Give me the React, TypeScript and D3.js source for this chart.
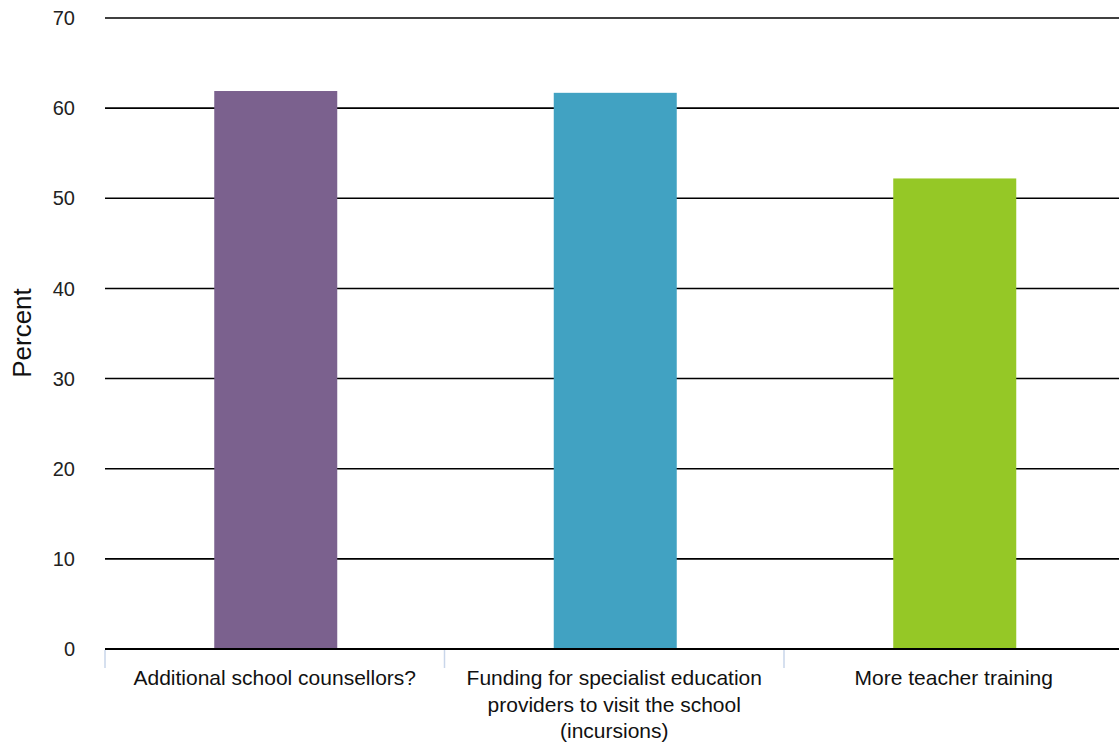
import React from "react";
import * as d3 from "d3";

const categories: string[][] = [
  ["Additional school counsellors?"],
  ["Funding for specialist education", "providers to visit the school", "(incursions)"],
  ["More teacher training"],
];
const values: number[] = [61.9, 61.7, 52.2];
const colors: string[] = ["#7b618e", "#41a2c2", "#95c826"];
const yTicks: number[] = [0, 10, 20, 30, 40, 50, 60, 70];

export default function App() {
  const W = 1119, H = 746;
  const left = 105, right = 1123.5, top = 18, bottom = 649;
  const x = d3.scaleBand<number>().domain([0, 1, 2]).range([left, right]);
  const y = d3.scaleLinear().domain([0, 70]).range([bottom, top]);
  const barW = 123;
  const font = "'Liberation Sans', Arial, Helvetica, sans-serif";
  return (
    <svg width={W} height={H} style={{ position: "absolute", left: 0, top: 0, background: "#fff" }}>
      {yTicks.map((t) => (
        <g key={t}>
          <line x1={left} x2={W} y1={y(t)} y2={y(t)} stroke="#000" strokeWidth={1.6} />
          <text x={75} y={y(t)} dy="0.36em" textAnchor="end" fontFamily={font} fontSize={20} fill="#222">
            {t}
          </text>
        </g>
      ))}
      {values.map((v, i) => (
        <rect
          key={i}
          x={(x(i) as number) + (x.bandwidth() - barW) / 2 + 1}
          y={y(v)}
          width={barW}
          height={bottom - y(v)}
          fill={colors[i]}
        />
      ))}
      <line x1={left} x2={W} y1={bottom} y2={bottom} stroke="#000" strokeWidth={2} />
      {[0, 1, 2].map((i) => (
        <line key={i} x1={(x(i) as number)} x2={(x(i) as number)} y1={bottom + 1} y2={bottom + 19} stroke="#c9d6ea" strokeWidth={1.5} />
      ))}
      {categories.map((lines, i) => (
        <text key={i} fontFamily={font} fontSize={21} fill="#111" textAnchor="middle">
          {lines.map((l, j) => (
            <tspan key={j} x={(x(i) as number) + x.bandwidth() / 2} y={685 + j * 26.5}>
              {l}
            </tspan>
          ))}
        </text>
      ))}
      <text
        transform={`translate(31,333) rotate(-90)`}
        textAnchor="middle"
        fontFamily={font}
        fontSize={26}
        fill="#111"
      >
        Percent
      </text>
    </svg>
  );
}
